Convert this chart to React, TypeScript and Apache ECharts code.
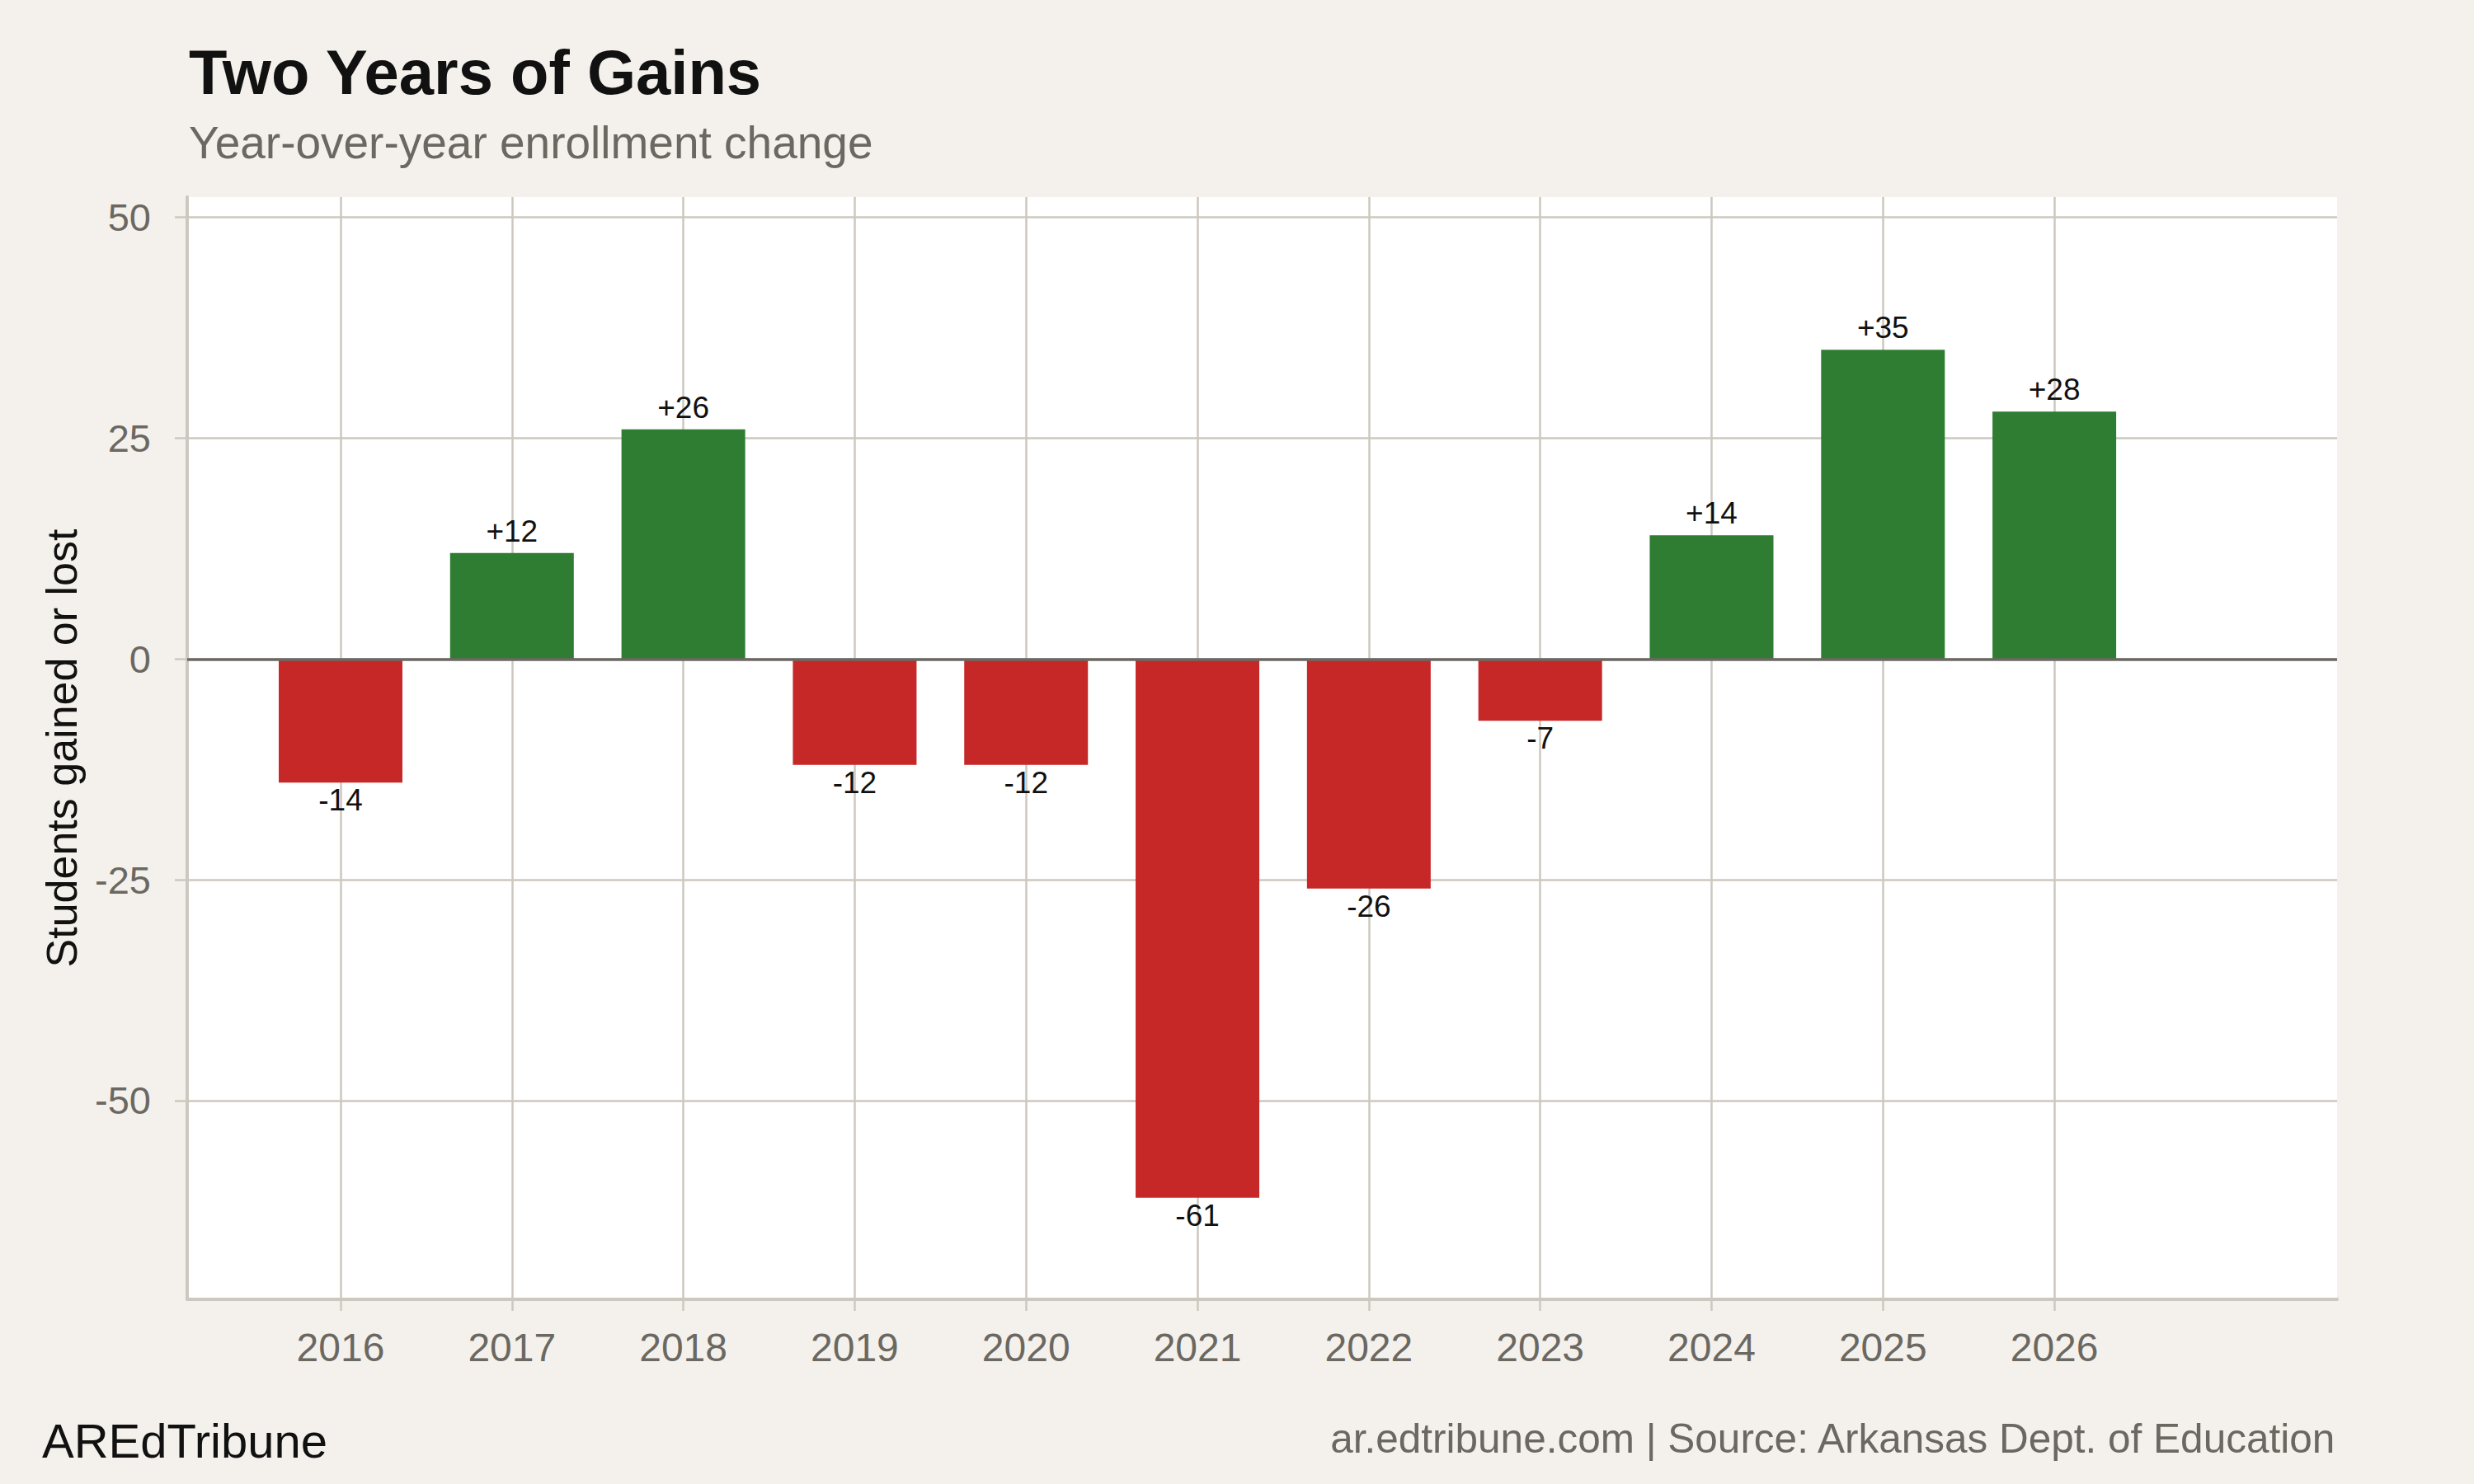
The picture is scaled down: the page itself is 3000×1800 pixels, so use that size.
import React, { useEffect, useRef } from "react";
import * as echarts from "echarts";

const years = [2016, 2017, 2018, 2019, 2020, 2021, 2022, 2023, 2024, 2025, 2026];
const changes = [-14, 12, 26, -12, -12, -61, -26, -7, 14, 35, 28];
const yTicks = [-50, -25, 0, 25, 50];

const titleText = "Two Years of Gains";
const subtitleText = "Year-over-year enrollment change";
const yAxisTitle = "Students gained or lost";
const brandText = "AREdTribune";
const sourceText = "ar.edtribune.com | Source: Arkansas Dept. of Education";

const FONT = "'Liberation Sans', Arial, Helvetica, sans-serif";
const BG = "#f4f1ec";
const GRID = "#cdc8bf";
const GREY_TEXT = "#6b6862";
const GREEN = "#2e7d32";
const RED = "#c62828";

export default function App() {
  const ref = useRef<HTMLDivElement>(null);

  useEffect(() => {
    document.body.style.margin = "0";
    document.body.style.background = BG;
    const chart = echarts.init(ref.current as HTMLDivElement, null, { renderer: "svg" });

    const barData = years.map((y, i) => {
      const v = changes[i];
      const pos = v >= 0;
      return {
        value: [y, v],
        itemStyle: { color: pos ? GREEN : RED },
        label: {
          show: true,
          position: pos ? "top" : "bottom",
          distance: pos ? 8 : 3,
        },
      };
    });

    const option: any = {
      animation: false,
      backgroundColor: BG,
      textStyle: { fontFamily: FONT },
      grid: {
        left: 227,
        right: 166,
        top: 239,
        bottom: 224,
        show: true,
        backgroundColor: "#ffffff",
        borderWidth: 0,
        containLabel: false,
        outerBoundsMode: "none",
      },
      xAxis: {
        type: "value",
        min: 2015.105,
        max: 2027.65,
        axisLine: { show: true, onZero: false, lineStyle: { color: GRID, width: 4 } },
        axisTick: { show: true, customValues: years, length: 14, lineStyle: { color: GRID, width: 2.5 } },
        axisLabel: {
          customValues: years,
          margin: 34,
          fontSize: 48,
          color: GREY_TEXT,
          fontFamily: FONT,
          formatter: (v: number) => String(v),
        },
        splitLine: { show: true, lineStyle: { color: GRID, width: 2.5 } },
      },
      yAxis: {
        type: "value",
        min: -72.5,
        max: 52.3,
        name: yAxisTitle,
        nameLocation: "middle",
        nameGap: 126,
        nameTextStyle: { fontSize: 52, color: "#111111", fontFamily: FONT },
        axisLine: { show: true, onZero: false, lineStyle: { color: GRID, width: 4 } },
        axisTick: { show: true, customValues: yTicks, length: 15, lineStyle: { color: GRID, width: 2.5 } },
        axisLabel: {
          customValues: yTicks,
          margin: 44,
          fontSize: 47,
          color: GREY_TEXT,
          fontFamily: FONT,
        },
        splitLine: { show: true, lineStyle: { color: GRID, width: 2.5 } },
      },
      series: [
        {
          type: "bar",
          barWidth: 150,
          data: barData,
          label: {
            show: true,
            fontSize: 37,
            color: "#111111",
            fontFamily: FONT,
            formatter: (p: any) => {
              const v = p.value[1];
              return v > 0 ? "+" + v : String(v);
            },
          },
          markLine: {
            silent: true,
            symbol: "none",
            label: { show: false },
            lineStyle: { color: "#6b6864", width: 3.5, type: "solid" },
            data: [{ yAxis: 0 }],
          },
        },
      ],
      graphic: [
        {
          type: "text",
          left: 229,
          top: 49,
          style: { text: titleText, fontSize: 76, fontWeight: "bold", fill: "#111111", fontFamily: FONT },
        },
        {
          type: "text",
          left: 229,
          top: 145,
          style: { text: subtitleText, fontSize: 55, fill: GREY_TEXT, fontFamily: FONT },
        },
        {
          type: "text",
          left: 51,
          top: 1718,
          style: { text: brandText, fontSize: 58, fill: "#111111", fontFamily: FONT },
        },
        {
          type: "text",
          right: 166,
          top: 1719,
          style: { text: sourceText, fontSize: 49.5, fill: GREY_TEXT, fontFamily: FONT },
        },
      ],
    };

    chart.setOption(option);
    return () => chart.dispose();
  }, []);

  return <div ref={ref} style={{ width: 3000, height: 1800 }} />;
}
